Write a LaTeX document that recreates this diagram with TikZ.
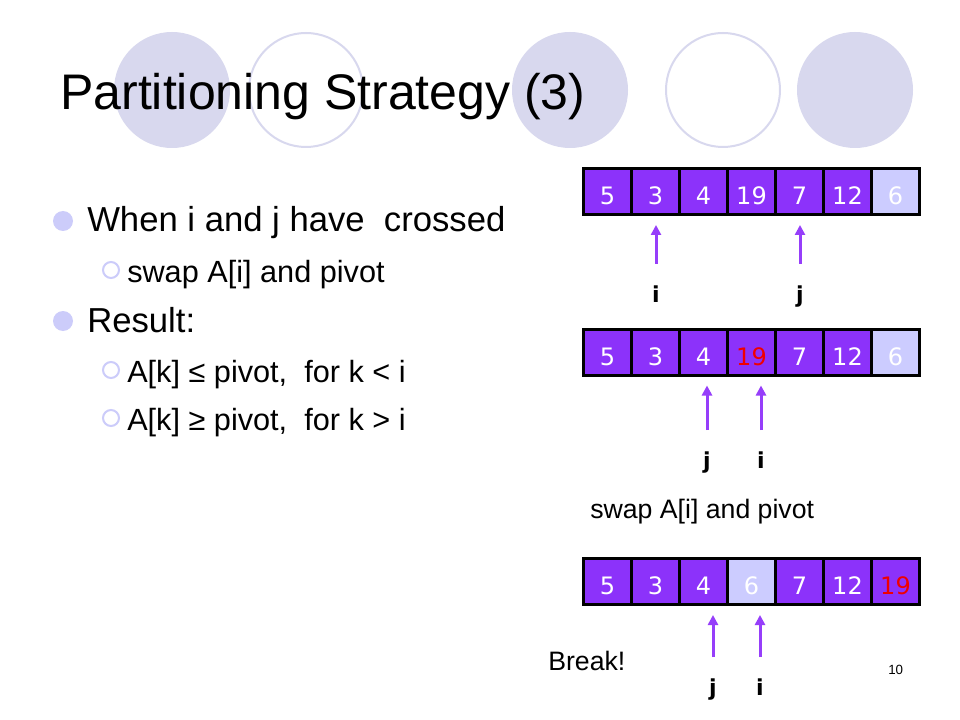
\documentclass[tikz,border=0pt]{standalone}
\usepackage{fontspec}
\setmainfont{Liberation Sans}
\newfontfamily\cellfont{DejaVu Sans}
\usetikzlibrary{arrows.meta, calc, positioning}
\definecolor{cCell}{RGB}{140,50,250}
\definecolor{cPivot}{RGB}{204,204,255}
\definecolor{cPtr}{RGB}{150,62,250}
\definecolor{cDeco}{RGB}{216,216,238}
\definecolor{cBullet}{RGB}{204,204,250}
\definecolor{cRed}{RGB}{240,0,0}
\tikzset{
	cell/.style   ={rectangle, draw=black, line width=2.25pt, fill=cCell, minimum width=36pt, minimum height=34.5pt, inner sep=0pt, text=white, font=\cellfont\fontsize{18}{18}\selectfont, text height=19.9pt, text depth=0pt},
	ptr/.style    ={-{Triangle[length=7.5pt, width=7.5pt]}, line width=2.25pt, cPtr},
	idx/.style    ={anchor=base, inner sep=0pt, font=\cellfont\bfseries\fontsize{16.5}{18}\selectfont},
	% slide text
	lvl1/.style   ={anchor=base west, inner sep=0pt, font=\fontsize{26}{30}\selectfont},
	lvl2/.style   ={anchor=base west, inner sep=0pt, font=\fontsize{23}{27}\selectfont},
	note/.style   ={anchor=base west, inner sep=0pt, font=\fontsize{20}{24}\selectfont},
	mdot/.style   ={circle, fill=cBullet, minimum size=15pt, inner sep=0pt},
	sdot/.style   ={circle, draw=cBullet, line width=1.5pt, minimum size=12pt, inner sep=0pt},
}

\begin{document}
\begin{tikzpicture}[x=0.75pt, y=-0.75pt]
	\useasboundingbox[fill=white] (0,0) rectangle (960,720);
	% decoration behind the title
	\fill[cDeco] (172,90) circle[radius=58];
	\draw[cDeco, line width=1.5pt] (306,90) circle[radius=57];
	\fill[cDeco] (570,90) circle[radius=58];
	\draw[cDeco, line width=1.5pt] (723,90) circle[radius=57];
	\fill[cDeco] (855,90) circle[radius=58];
	\node[anchor=base west, inner sep=0pt, font=\fontsize{37.5}{40}\selectfont] (title) at (60,110) {Partitioning Strategy (3)};

	% bullets
	\node[mdot] (m1) at (63,221) {};
	\node[lvl1] (t1) at (87,232) {When i and j have \ crossed};
	\node[sdot] (s1) at (111,270) {};
	\node[lvl2] (t2) at (127,282) {swap A[i] and pivot};
	\node[mdot] (m2) at (63,321) {};
	\node[lvl1] (t3) at (87,332) {Result:};
	\node[sdot] (s2) at (111,370) {};
	\node[lvl2] (t4) at (127,382) {A[k] ≤ pivot, \ for k < i};
	\node[sdot] (s3) at (111,418) {};
	\node[lvl2] (t5) at (127,430) {A[k] ≥ pivot, \ for k > i};

	% array before the swap
	\foreach \v/\fc/\tc [count=\k] in {5/cCell/white, 3/cCell/white, 4/cCell/white, 19/cCell/white, 7/cCell/white, 12/cCell/white, 6/cPivot/white}
		\node[cell, fill=\fc, text=\tc] (a\k) at ({607.5+48*(\k-1)},191.5) {\v};
	\node[idx] (i1) at (656,302) {i};
	\node[idx] (j1) at (800,302) {j};
	\draw[ptr] ($(i1.base)+(0,-38)$) -- ($(i1.base |- a2.south)+(0,9)$);
	\draw[ptr] ($(j1.base)+(0,-38)$) -- ($(j1.base |- a5.south)+(0,9)$);

	% i and j have crossed
	\foreach \v/\fc/\tc [count=\k] in {5/cCell/white, 3/cCell/white, 4/cCell/white, 19/cCell/cRed, 7/cCell/white, 12/cCell/white, 6/cPivot/white}
		\node[cell, fill=\fc, text=\tc] (b\k) at ({607.5+48*(\k-1)},352) {\v};
	\node[idx] (j2) at (707,468) {j};
	\node[idx] (i2) at (761,468) {i};
	\draw[ptr] ($(j2.base)+(0,-38)$) -- ($(j2.base |- b3.south)+(0,9)$);
	\draw[ptr] ($(i2.base)+(0,-38)$) -- ($(i2.base |- b4.south)+(0,9)$);

	\node[note] (sw) at (590,518) {swap A[i] and pivot};

	% after the swap
	\foreach \v/\fc/\tc [count=\k] in {5/cCell/white, 3/cCell/white, 4/cCell/white, 6/cPivot/white, 7/cCell/white, 12/cCell/white, 19/cCell/cRed}
		\node[cell, fill=\fc, text=\tc] (c\k) at ({607.5+48*(\k-1)},581.5) {\v};
	\node[idx] (j3) at (713,695) {j};
	\node[idx] (i3) at (760,695) {i};
	\draw[ptr] ($(j3.base)+(0,-38)$) -- ($(j3.base |- c3.south)+(0,9)$);
	\draw[ptr] ($(i3.base)+(0,-38)$) -- ($(i3.base |- c4.south)+(0,9)$);

	\node[note] (brk) at (548,670) {Break!};
	\node[anchor=base west, inner sep=0pt, font=\fontsize{10}{12}\selectfont] (pg) at (888,674) {10};
\end{tikzpicture}
\end{document}
